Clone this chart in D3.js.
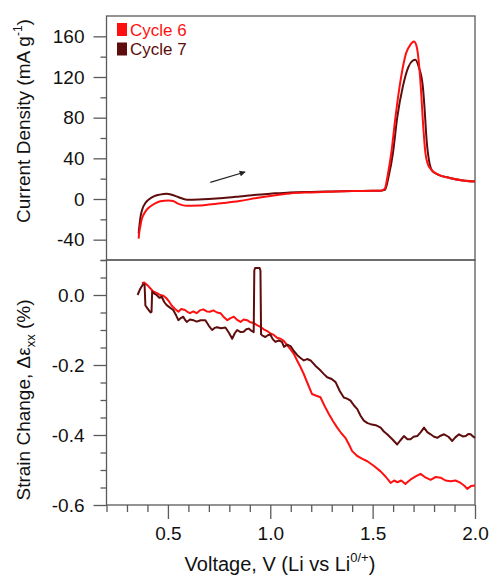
<!DOCTYPE html>
<html>
<head>
<meta charset="utf-8">
<script src="https://cdn.jsdelivr.net/npm/d3@7"></script>
<style>
  html, body { margin: 0; padding: 0; background: #fff; }
  svg text { font-family: "Liberation Sans", Arial, Helvetica, sans-serif; }
</style>
</head>
<body>
<svg id="chart" width="490" height="575"></svg>
<script>
// ---------- data ----------
const seriesNames = ["Cycle 6", "Cycle 7"];
const seriesColors = ["#ff1010", "#5e0c0c"];

// Top panel: current density (mA g^-1) vs voltage (V)
const cvCycle6 = [
  [0.357,-39],[0.360,-33],[0.365,-27],[0.372,-20],[0.381,-15.5],[0.395,-11],[0.414,-7.3],
  [0.440,-4],[0.463,-2.3],[0.503,-1.4],[0.525,-2],[0.544,-4],[0.570,-6],[0.593,-6.6],
  [0.650,-6.5],[0.700,-5.5],[0.771,-4],[0.850,-2],[0.934,1],[1.000,3],[1.096,5.5],
  [1.200,6.5],[1.300,7.2],[1.400,7.8],[1.500,8],[1.540,8.2],[1.559,10],[1.575,25],
  [1.591,45],[1.610,78],[1.632,111],[1.664,143.7],[1.685,152],[1.702,155],[1.715,150],
  [1.729,127],[1.737,105],[1.745,78],[1.758,45],[1.770,34],[1.786,29],[1.820,24],
  [1.876,20.7],[1.950,18],[2.000,17.3]
];
const cvCycle7 = [
  [0.357,-34],[0.360,-28],[0.365,-19],[0.375,-10],[0.390,-4],[0.410,0],[0.431,2.6],
  [0.460,4.3],[0.495,5.2],[0.519,4.2],[0.550,2],[0.593,-0.7],[0.650,-0.5],[0.700,0],
  [0.771,1],[0.850,2.5],[0.934,4.2],[1.000,5.2],[1.096,6.5],[1.200,7],[1.300,7.4],
  [1.400,7.8],[1.500,8],[1.540,8.2],[1.560,9],[1.578,22],[1.599,45],[1.620,80],
  [1.648,111],[1.675,130],[1.695,136],[1.709,137],[1.725,130],[1.745,111],[1.755,85],
  [1.762,62],[1.778,35],[1.790,28],[1.820,24],[1.876,20.7],[1.950,18],[2.000,17.3]
];

// Bottom panel: strain change (%) vs voltage (V)
const strainCycle6 = [
  [0.373,0.034],[0.384,0.036],[0.400,0.028],[0.428,0.010],[0.445,0.006],[0.462,0.000],
  [0.478,-0.002],[0.494,-0.010],[0.505,-0.018],[0.518,-0.030],[0.535,-0.040],[0.551,-0.048],
  [0.565,-0.040],[0.583,-0.043],[0.595,-0.048],[0.608,-0.052],[0.624,-0.047],[0.640,-0.052],
  [0.656,-0.044],[0.673,-0.041],[0.690,-0.047],[0.705,-0.048],[0.722,-0.044],[0.740,-0.050],
  [0.757,-0.052],[0.773,-0.063],[0.790,-0.072],[0.806,-0.066],[0.822,-0.062],[0.838,-0.071],
  [0.855,-0.077],[0.870,-0.070],[0.887,-0.072],[0.903,-0.078],[0.919,-0.080],[0.935,-0.086],
  [0.952,-0.091],[0.968,-0.098],[0.985,-0.103],[1.001,-0.110],[1.017,-0.114],[1.033,-0.122],
  [1.050,-0.125],[1.066,-0.131],[1.082,-0.143],[1.098,-0.155],[1.115,-0.168],[1.131,-0.187],
  [1.147,-0.205],[1.163,-0.225],[1.184,-0.255],[1.204,-0.283],[1.225,-0.288],[1.245,-0.292],
  [1.266,-0.318],[1.286,-0.340],[1.306,-0.360],[1.327,-0.379],[1.347,-0.395],[1.367,-0.408],
  [1.385,-0.428],[1.400,-0.446],[1.425,-0.460],[1.450,-0.468],[1.474,-0.475],[1.505,-0.488],
  [1.539,-0.504],[1.565,-0.520],[1.588,-0.537],[1.605,-0.530],[1.621,-0.535],[1.640,-0.530],
  [1.660,-0.540],[1.675,-0.532],[1.686,-0.527],[1.710,-0.518],[1.734,-0.511],[1.760,-0.522],
  [1.783,-0.528],[1.808,-0.520],[1.832,-0.522],[1.856,-0.530],[1.881,-0.532],[1.905,-0.530],
  [1.930,-0.537],[1.948,-0.545],[1.962,-0.554],[1.980,-0.546],[2.000,-0.544]
];
const strainCycle7 = [
  [0.352,0.000],[0.365,0.018],[0.379,0.031],[0.386,0.030],[0.390,-0.030],[0.400,-0.038],
  [0.415,-0.050],[0.420,-0.048],[0.423,0.010],[0.433,0.004],[0.445,0.000],[0.458,-0.008],
  [0.470,-0.005],[0.482,-0.020],[0.494,-0.029],[0.510,-0.036],[0.526,-0.043],[0.540,-0.058],
  [0.551,-0.072],[0.563,-0.066],[0.575,-0.062],[0.585,-0.072],[0.592,-0.077],[0.608,-0.070],
  [0.624,-0.072],[0.640,-0.076],[0.660,-0.072],[0.683,-0.072],[0.700,-0.088],[0.716,-0.100],
  [0.728,-0.094],[0.740,-0.092],[0.760,-0.095],[0.781,-0.093],[0.798,-0.108],[0.814,-0.125],
  [0.826,-0.110],[0.838,-0.100],[0.855,-0.106],[0.870,-0.105],[0.883,-0.098],[0.895,-0.096],
  [0.907,-0.102],[0.919,-0.106],[0.922,0.070],[0.926,0.077],[0.948,0.077],[0.952,0.070],
  [0.955,-0.112],[0.962,-0.116],[0.976,-0.120],[0.988,-0.115],[1.000,-0.113],[1.012,-0.126],
  [1.025,-0.134],[1.041,-0.130],[1.057,-0.134],[1.067,-0.148],[1.083,-0.142],[1.099,-0.146],
  [1.115,-0.160],[1.132,-0.172],[1.148,-0.180],[1.164,-0.187],[1.180,-0.183],[1.197,-0.187],
  [1.220,-0.202],[1.246,-0.216],[1.262,-0.226],[1.278,-0.235],[1.300,-0.240],[1.319,-0.249],
  [1.340,-0.275],[1.359,-0.293],[1.375,-0.296],[1.392,-0.302],[1.408,-0.315],[1.425,-0.326],
  [1.441,-0.345],[1.457,-0.359],[1.475,-0.366],[1.490,-0.369],[1.515,-0.372],[1.539,-0.379],
  [1.555,-0.390],[1.571,-0.398],[1.596,-0.412],[1.620,-0.427],[1.636,-0.415],[1.653,-0.403],
  [1.670,-0.412],[1.685,-0.412],[1.700,-0.405],[1.718,-0.403],[1.735,-0.392],[1.751,-0.379],
  [1.767,-0.392],[1.783,-0.398],[1.800,-0.405],[1.816,-0.408],[1.832,-0.402],[1.849,-0.398],
  [1.870,-0.405],[1.889,-0.417],[1.905,-0.406],[1.922,-0.398],[1.940,-0.404],[1.955,-0.403],
  [1.967,-0.397],[1.979,-0.398],[1.990,-0.404],[2.000,-0.408]
];

const xMajorTicks = [0.5, 1.0, 1.5, 2.0];
const xMinorTicks = [0.2,0.3,0.4,0.6,0.7,0.8,0.9,1.1,1.2,1.3,1.4,1.6,1.7,1.8,1.9];
const yTopMajor = [-40, 0, 40, 80, 120, 160];
const yTopMinor = [-60, -20, 20, 60, 100, 140];
const yBotMajor = [-0.6, -0.4, -0.2, 0.0];
const yBotMinor = [-0.55,-0.5,-0.45,-0.35,-0.3,-0.25,-0.15,-0.1,-0.05,0.05,0.1];

const arrowFrom = [0.707, 16.3];
const arrowTo = [0.877, 26.6];

// ---------- layout ----------
const svg = d3.select("#chart");
const L = 106.5, R = 475, T1 = 16, B1 = 260, T2 = 260, B2 = 505;
const frameColor = "#5a5a5a";

const x = d3.scaleLinear().domain([0.2, 2.0]).range([L, R]);
const yTop = d3.scaleLinear().domain([-60, 180]).range([B1, T1]);
const yBot = d3.scaleLinear().domain([-0.6, 0.1]).range([B2, T2]);

function styleAxis(g) {
  g.select(".domain").remove();
  g.selectAll(".tick line").attr("stroke", frameColor).attr("stroke-width", 1.3);
  g.selectAll(".tick text").attr("fill", "#111").attr("font-size", 19)
    .attr("font-family", "'Liberation Sans', Arial, Helvetica, sans-serif");
}

// Top y-axis
svg.append("g").attr("transform", `translate(${L},0)`)
  .call(d3.axisLeft(yTop).tickValues(yTopMajor).tickSize(13).tickPadding(9).tickFormat(d3.format("d")))
  .call(styleAxis);
svg.append("g").attr("transform", `translate(${L},0)`)
  .call(d3.axisLeft(yTop).tickValues(yTopMinor).tickSize(6).tickFormat(""))
  .call(styleAxis);

// Bottom y-axis
svg.append("g").attr("transform", `translate(${L},0)`)
  .call(d3.axisLeft(yBot).tickValues(yBotMajor).tickSize(13).tickPadding(9).tickFormat(d3.format(".1f")))
  .call(styleAxis);
svg.append("g").attr("transform", `translate(${L},0)`)
  .call(d3.axisLeft(yBot).tickValues(yBotMinor).tickSize(6).tickFormat(""))
  .call(styleAxis);

// Bottom x-axis
svg.append("g").attr("transform", `translate(0,${B2})`)
  .call(d3.axisBottom(x).tickValues(xMajorTicks).tickSize(14).tickPadding(8).tickFormat(d3.format(".1f")))
  .call(styleAxis);
svg.append("g").attr("transform", `translate(0,${B2})`)
  .call(d3.axisBottom(x).tickValues(xMinorTicks).tickSize(7).tickFormat(""))
  .call(styleAxis);

// plain hyphen minus like the original
svg.selectAll(".tick text").text(function() { return d3.select(this).text().replace("\u2212", "-"); });

// Frames
const frame = svg.append("g").attr("fill", "none").attr("stroke", frameColor).attr("stroke-width", 1.3);
frame.append("rect").attr("x", L).attr("y", T1).attr("width", R - L).attr("height", B1 - T1);
frame.append("rect").attr("x", L).attr("y", T2).attr("width", R - L).attr("height", B2 - T2);

// Lines
const lineTop = d3.line().x(d => x(d[0])).y(d => yTop(d[1])).curve(d3.curveMonotoneX);
const lineBot = d3.line().x(d => x(d[0])).y(d => yBot(d[1])).curve(d3.curveLinear);

const plot = svg.append("g").attr("fill", "none").attr("stroke-width", 2).attr("stroke-linejoin", "round");
plot.append("path").datum(cvCycle7).attr("stroke", seriesColors[1]).attr("d", lineTop);
plot.append("path").datum(cvCycle6).attr("stroke", seriesColors[0]).attr("d", lineTop);
plot.append("path").datum(strainCycle6).attr("stroke", seriesColors[0]).attr("d", lineBot);
plot.append("path").datum(strainCycle7).attr("stroke", seriesColors[1]).attr("d", lineBot);

// Arrow
svg.append("defs").append("marker")
  .attr("id", "ah").attr("viewBox", "0 0 10 10").attr("refX", 9).attr("refY", 5)
  .attr("markerWidth", 8).attr("markerHeight", 6).attr("markerUnits", "userSpaceOnUse")
  .attr("orient", "auto")
  .append("path").attr("d", "M0,0 L10,5 L0,10 Z").attr("fill", "#222");
svg.append("line")
  .attr("x1", x(arrowFrom[0])).attr("y1", yTop(arrowFrom[1]))
  .attr("x2", x(arrowTo[0])).attr("y2", yTop(arrowTo[1]))
  .attr("stroke", "#222").attr("stroke-width", 1.2).attr("marker-end", "url(#ah)");

// Legend
const leg = svg.append("g").attr("transform", `translate(117,23)`);
seriesNames.forEach((name, i) => {
  const g = leg.append("g").attr("transform", `translate(0,${i * 19.5})`);
  g.append("rect").attr("x", 0).attr("y", 0).attr("width", 10).attr("height", 13).attr("fill", seriesColors[i]);
  g.append("text").attr("x", 13).attr("y", 12.5).attr("font-size", 17).attr("fill", seriesColors[i]).text(name);
});

// Axis titles
const yt1 = svg.append("text").attr("transform", "translate(30,121) rotate(-90)")
  .attr("text-anchor", "middle").attr("font-size", 19).attr("fill", "#111");
yt1.append("tspan").text("Current Density (mA g");
yt1.append("tspan").attr("font-size", 12).attr("dy", -8).text("-1");
yt1.append("tspan").attr("dy", 8).text(")");

const yt2 = svg.append("text").attr("transform", "translate(30,400) rotate(-90)")
  .attr("text-anchor", "middle").attr("font-size", 19).attr("fill", "#111");
yt2.append("tspan").text("Strain Change, \u0394\u03b5");
yt2.append("tspan").attr("font-size", 13).attr("dy", 5).text("xx");
yt2.append("tspan").attr("dy", -5).text(" (%)");

const xt = svg.append("text").attr("x", 280).attr("y", 571)
  .attr("text-anchor", "middle").attr("font-size", 20).attr("fill", "#111");
xt.append("tspan").text("Voltage, V (Li vs Li");
xt.append("tspan").attr("font-size", 13).attr("dy", -9).text("0/+");
xt.append("tspan").attr("dy", 9).text(")");
</script>
</body>
</html>
